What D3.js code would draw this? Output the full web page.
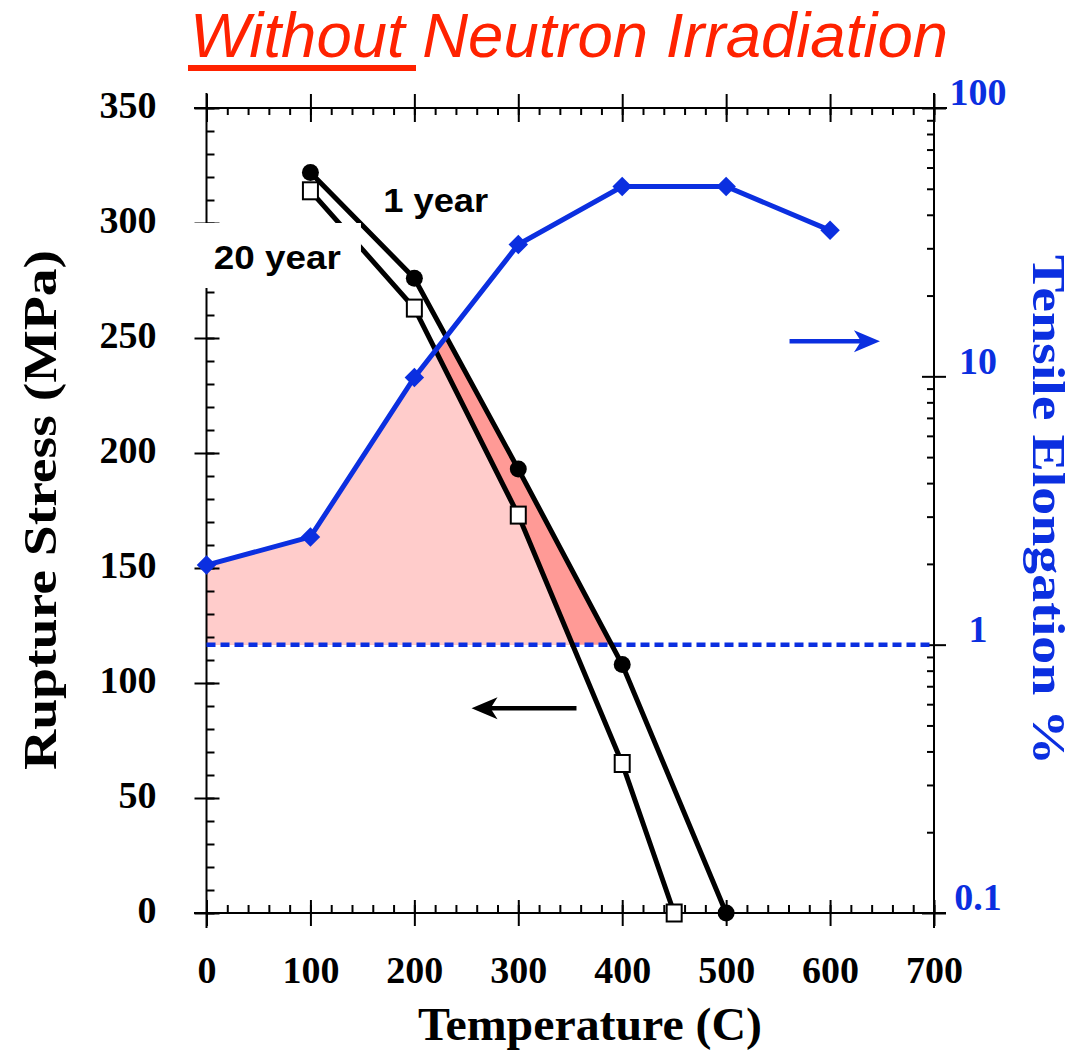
<!DOCTYPE html>
<html><head><meta charset="utf-8">
<script src="https://cdn.jsdelivr.net/npm/d3@7"></script>
<style>body{margin:0;background:#fff} svg{display:block}</style>
</head><body><svg id="c" width="1086" height="1056"></svg>
<script>
// ---- data ----
const temps1yr = [100, 200, 300, 400, 500];
const stress1yr = [322, 276, 193, 108, 0];
const temps20yr = [100, 200, 300, 400, 450];
const stress20yr = [314, 263, 173, 65, 0];
const tempsElong = [0, 100, 200, 300, 400, 500, 600];
const elongation = [1.98, 2.52, 9.9, 31, 51, 51, 35];
const elongLimit = 1;
const xTicks = [0, 100, 200, 300, 400, 500, 600, 700];
const yLeftTicks = [0, 50, 100, 150, 200, 250, 300, 350];
const yRightTicks = [0.1, 1, 10, 100];
const titleText = "Without Neutron Irradiation";
const xTitle = "Temperature (C)";
const yLeftTitle = "Rupture Stress (MPa)";
const yRightTitle = "Tensile Elongation %";
const label1 = "1 year", label20 = "20 year";

const BLUE = "#0b2fe0", RED = "#ff2200", LIGHT = "#ffcccb", DARK = "#ff9a96";
const SERIF = "'Liberation Serif','Times New Roman',serif";
const SANS = "'Liberation Sans',Arial,sans-serif";

const svg = d3.select('#c');
const x = d3.scaleLinear([0, 700], [206.5, 934]);
const yL = d3.scaleLinear([0, 350], [913, 108]);
const yR = d3.scaleLog([0.1, 100], [913, 108]);

const one = temps1yr.map((t, i) => ({t, s: stress1yr[i]}));
const twenty = temps20yr.map((t, i) => ({t, s: stress20yr[i]}));
const elong = tempsElong.map((t, i) => ({t, e: elongation[i]}));

// ---- shaded regions ----
const defs = svg.append('defs');
function underCurve(id, pts) {
  const p = d3.path();
  p.moveTo(x(0), yL(pts[0].s));
  pts.forEach(d => p.lineTo(x(d.t), yL(d.s)));
  p.lineTo(x(0), yL(0));
  p.closePath();
  defs.append('clipPath').attr('id', id).append('path').attr('d', p.toString());
}
underCurve('clip1', one);
underCurve('clip20', twenty);
const blueArea = d3.area().x(d => x(d.t)).y0(yR(elongLimit)).y1(d => yR(d.e));
svg.append('path').datum(elong).attr('d', blueArea).attr('fill', DARK).attr('clip-path', 'url(#clip1)');
svg.append('path').datum(elong).attr('d', blueArea).attr('fill', LIGHT).attr('clip-path', 'url(#clip20)');

// ---- frame & axes ----
const ax = svg.append('g').attr('stroke', '#000').attr('stroke-width', 2);
ax.append('line').attr('x1', x(0)).attr('x2', x(0)).attr('y1', 93).attr('y2', 928);
ax.append('line').attr('x1', x(700)).attr('x2', x(700)).attr('y1', 93).attr('y2', 928);
ax.append('line').attr('x1', 194).attr('x2', 947).attr('y1', yL(350)).attr('y2', yL(350));
ax.append('line').attr('x1', 194).attr('x2', 946).attr('y1', yL(0)).attr('y2', yL(0));

function styleAxis(g, size, color) {
  g.select('.domain').remove();
  g.selectAll('.tick line').attr('stroke', '#000').attr('stroke-width', 2);
  g.selectAll('.tick text').attr('font-family', SERIF).attr('font-weight', 'bold')
    .attr('font-size', size).attr('fill', color);
}
const gL = svg.append('g').attr('transform', `translate(${x(0)},0)`)
  .call(d3.axisLeft(yL).tickValues(yLeftTicks).tickSizeInner(12).tickSizeOuter(0).tickPadding(38).tickFormat(d3.format('d')));
styleAxis(gL, 38, '#000');
gL.selectAll('.tick text').attr('dy', '0.26em');
svg.append('g').attr('transform', `translate(${x(0)},0)`)
  .call(d3.axisRight(yL).tickValues(yLeftTicks).tickSize(13).tickFormat(''))
  .call(g => styleAxis(g, 0, '#000'));
svg.append('g').attr('transform', `translate(${x(0)},0)`)
  .call(d3.axisRight(yL).tickValues(d3.range(0, 351, 10)).tickSize(8).tickFormat(''))
  .call(g => styleAxis(g, 0, '#000'));

const gB = svg.append('g').attr('transform', `translate(0,${yL(0)})`)
  .call(d3.axisBottom(x).tickValues(xTicks).tickSizeInner(13).tickSizeOuter(0).tickPadding(30).tickFormat(d3.format('d')));
styleAxis(gB, 38, '#000');
svg.append('g').attr('transform', `translate(0,${yL(0)})`)
  .call(d3.axisTop(x).tickValues(xTicks).tickSize(13).tickFormat(''))
  .call(g => styleAxis(g, 0, '#000'));
svg.append('g').attr('transform', `translate(0,${yL(0)})`)
  .call(d3.axisTop(x).tickValues(d3.range(0, 701, 20)).tickSize(8).tickFormat(''))
  .call(g => styleAxis(g, 0, '#000'));
svg.append('g').attr('transform', `translate(0,${yL(350)})`)
  .call(d3.axisTop(x).tickValues(xTicks).tickSize(14).tickFormat(''))
  .call(g => styleAxis(g, 0, '#000'));
svg.append('g').attr('transform', `translate(0,${yL(350)})`)
  .call(d3.axisBottom(x).tickValues(xTicks).tickSize(14).tickFormat(''))
  .call(g => styleAxis(g, 0, '#000'));
svg.append('g').attr('transform', `translate(0,${yL(350)})`)
  .call(d3.axisBottom(x).tickValues(d3.range(0, 701, 20)).tickSize(7).tickFormat(''))
  .call(g => styleAxis(g, 0, '#000'));

const gR = svg.append('g').attr('transform', `translate(${x(700)},0)`)
  .call(d3.axisRight(yR).tickValues(yRightTicks).tickSizeInner(12).tickSizeOuter(0).tickPadding(32).tickFormat(d3.format('~g')));
styleAxis(gR, 38, BLUE);
gR.selectAll('.tick text').attr('text-anchor', 'middle').attr('x', 44).attr('dy', '-0.08em');
svg.append('g').attr('transform', `translate(${x(700)},0)`)
  .call(d3.axisLeft(yR).tickValues(yRightTicks).tickSize(12).tickFormat(''))
  .call(g => styleAxis(g, 0, '#000'));
const minorLog = yR.ticks().filter(v => Math.abs(Math.log10(v) - Math.round(Math.log10(v))) > 1e-6);
svg.append('g').attr('transform', `translate(${x(700)},0)`)
  .call(d3.axisLeft(yR).tickValues(minorLog).tickSize(7).tickFormat(''))
  .call(g => styleAxis(g, 0, '#000'));

// ---- dashed 1% line ----
svg.append('line').attr('x1', x(0)).attr('x2', x(700))
  .attr('y1', yR(elongLimit)).attr('y2', yR(elongLimit))
  .attr('stroke', BLUE).attr('stroke-width', 4.5).attr('stroke-dasharray', '9,5');

// ---- stress lines ----
const lineS = d3.line().x(d => x(d.t)).y(d => yL(d.s));
svg.append('path').datum(one).attr('d', lineS).attr('fill', 'none').attr('stroke', '#000').attr('stroke-width', 5);
svg.append('path').datum(twenty).attr('d', lineS).attr('fill', 'none').attr('stroke', '#000').attr('stroke-width', 5);
svg.selectAll('.c1').data(one).join('circle').attr('cx', d => x(d.t)).attr('cy', d => yL(d.s)).attr('r', 8.5).attr('fill', '#000');
svg.selectAll('.s20').data(twenty).join('rect')
  .attr('x', d => x(d.t) - 7.5).attr('y', d => yL(d.s) - 8.5).attr('width', 15).attr('height', 17)
  .attr('fill', '#fff').attr('stroke', '#000').attr('stroke-width', 2);

// ---- elongation line ----
const lineE = d3.line().x(d => x(d.t)).y(d => yR(d.e));
svg.append('path').datum(elong).attr('d', lineE).attr('fill', 'none').attr('stroke', BLUE).attr('stroke-width', 5);
svg.selectAll('.dm').data(elong).join('path')
  .attr('d', d3.symbol(d3.symbolSquare, 190))
  .attr('transform', d => `translate(${x(d.t)},${yR(d.e)}) rotate(45)`)
  .attr('fill', BLUE);

// ---- labels ----
const t20 = svg.append('text').attr('x', x(7)).attr('y', yL(280)).text(label20)
  .attr('font-family', SANS).attr('font-weight', 'bold').attr('font-size', 33)
  .attr('textLength', 127).attr('lengthAdjust', 'spacingAndGlyphs');
const bb = t20.node().getBBox();
svg.insert('rect', () => t20.node()).attr('x', bb.x - 21).attr('y', bb.y - 16)
  .attr('width', bb.width + 41).attr('height', bb.height + 28).attr('fill', '#fff');
svg.append('text').attr('x', x(170)).attr('y', yL(305)).text(label1)
  .attr('font-family', SANS).attr('font-weight', 'bold').attr('font-size', 33)
  .attr('textLength', 105).attr('lengthAdjust', 'spacingAndGlyphs');

// ---- arrows ----
function arrow(tipX, tailX, y, color, dir) {
  const s = dir;
  svg.append('line').attr('x1', tailX).attr('x2', tipX - s * 18).attr('y1', y).attr('y2', y)
    .attr('stroke', color).attr('stroke-width', 4.5);
  svg.append('path').attr('d', `M${tipX},${y} L${tipX - s * 26},${y - 11} L${tipX - s * 19},${y} L${tipX - s * 26},${y + 11} Z`)
    .attr('fill', color);
}
arrow(x(255), x(356), yL(89), '#000', -1);
arrow(x(648), x(561), yR(13.5), BLUE, 1);

// ---- titles ----
svg.append('text').attr('x', 190).attr('y', 57)
  .attr('font-family', SANS).attr('font-style', 'italic').attr('font-size', 63).attr('fill', RED)
  .attr('textLength', 758).attr('lengthAdjust', 'spacingAndGlyphs')
  .text(titleText);
svg.append('rect').attr('x', 188).attr('y', 65).attr('width', 228).attr('height', 6).attr('fill', RED);

svg.append('text').attr('x', 590).attr('y', 1040).attr('text-anchor', 'middle')
  .attr('font-family', SERIF).attr('font-weight', 'bold').attr('font-size', 46)
  .attr('textLength', 344).attr('lengthAdjust', 'spacingAndGlyphs').text(xTitle);
svg.append('text').attr('transform', 'translate(56,510) rotate(-90)').attr('text-anchor', 'middle')
  .attr('font-family', SERIF).attr('font-weight', 'bold').attr('font-size', 46)
  .attr('textLength', 520).attr('lengthAdjust', 'spacingAndGlyphs').text(yLeftTitle);
svg.append('text').attr('transform', 'translate(1033,510) rotate(90)').attr('text-anchor', 'middle')
  .attr('font-family', SERIF).attr('font-weight', 'bold').attr('font-size', 46).attr('fill', BLUE)
  .attr('textLength', 510).attr('lengthAdjust', 'spacingAndGlyphs').text(yRightTitle);
</script></body></html>
